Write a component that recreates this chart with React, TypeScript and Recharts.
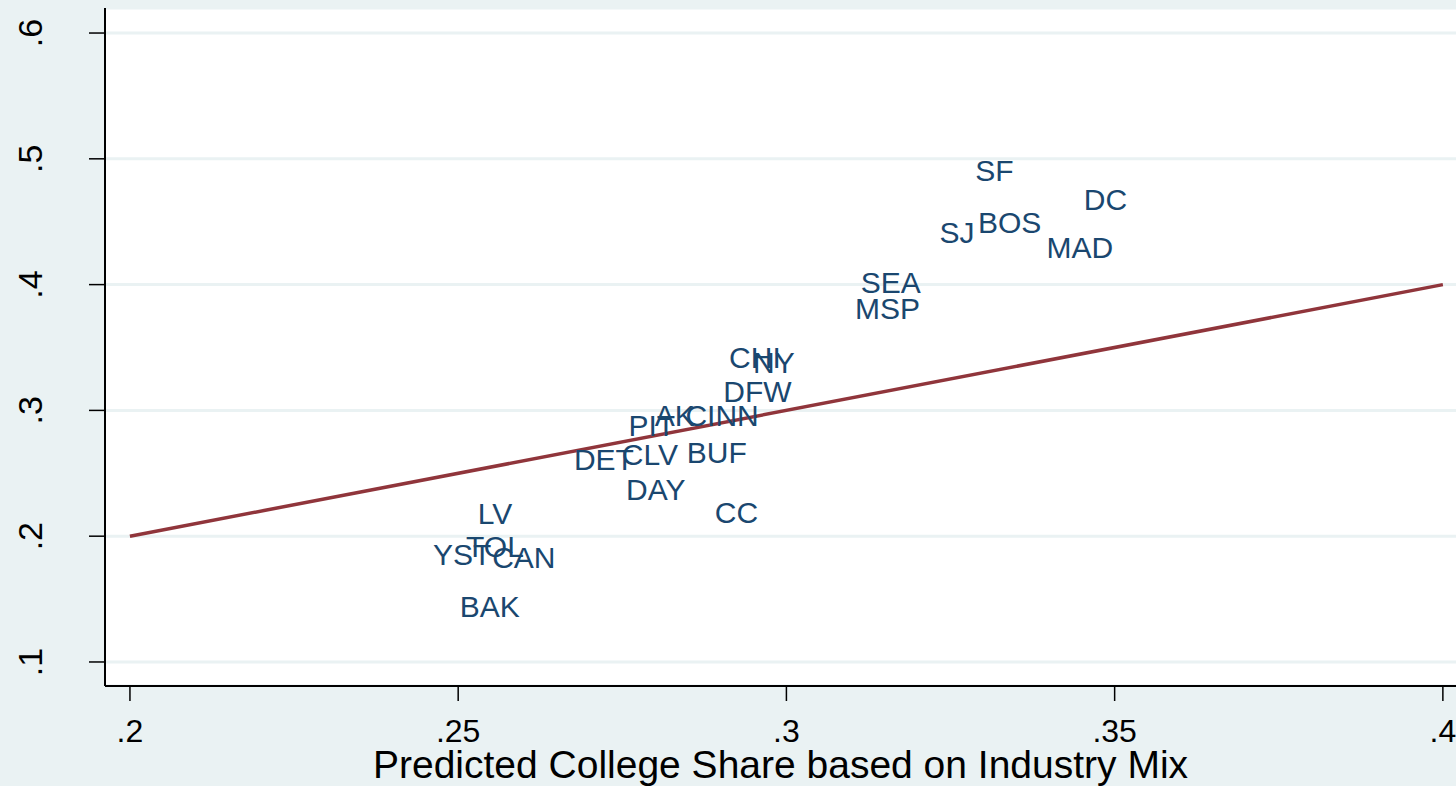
import { ScatterChart, Scatter, XAxis, YAxis, CartesianGrid } from "recharts";

const BG = "#EAF2F3";
const NAVY = "#1A476F";
const MAROON = "#90353B";
const FONT = "'Liberation Sans', Arial, sans-serif";

const cities = ["SF", "DC", "BOS", "SJ", "MAD", "SEA", "MSP", "CHI", "NY", "DFW", "AK", "CINN", "PIT", "DET", "CLV", "BUF", "DAY", "CC", "LV", "TOL", "YST", "CAN", "BAK"];
const predictedShare = [0.3317, 0.3486, 0.334, 0.326, 0.3447, 0.3159, 0.3154, 0.2952, 0.2981, 0.2956, 0.283, 0.2902, 0.2795, 0.2722, 0.2792, 0.2894, 0.2801, 0.2924, 0.2556, 0.2556, 0.2506, 0.26, 0.2548];
const actualShare = [0.491, 0.468, 0.45, 0.442, 0.43, 0.402, 0.381, 0.342, 0.338, 0.315, 0.296, 0.296, 0.288, 0.261, 0.265, 0.267, 0.237, 0.219, 0.218, 0.192, 0.186, 0.183, 0.144];

const fitX = [0.2, 0.4];
const fitY = [0.2, 0.4];

const xTicks = [0.2, 0.25, 0.3, 0.35, 0.4];
const yTicks = [0.1, 0.2, 0.3, 0.4, 0.5, 0.6];

const points = cities.map((name, i) => ({ name, x: predictedShare[i], y: actualShare[i] }));
const fitLine = fitX.map((x, i) => ({ x, y: fitY[i] }));

const fmt = (v: number) => String(v).replace(/^0/, "");

function CityLabel(props: any) {
  const { cx, cy, payload } = props;
  return (
    <text x={cx} y={cy} dy="0.36em" textAnchor="middle" fill={NAVY} fontSize={30} fontFamily={FONT}>
      {payload.name}
    </text>
  );
}

function YTick(props: any) {
  const { x, y, payload } = props;
  return (
    <text transform={`translate(${x}, ${y}) rotate(-90)`} textAnchor="middle" fill="#000" fontSize={34} fontFamily={FONT}>
      {fmt(payload.value)}
    </text>
  );
}

export default function App() {
  return (
    <div style={{ position: "absolute", left: 0, top: 0, width: 1456, height: 786, background: BG }}>
      <ScatterChart width={1456} height={786} margin={{ top: 8, right: 0, bottom: 0, left: 0 }}>
        <CartesianGrid horizontal vertical={false} stroke={BG} strokeWidth={3} fill="#fff" fillOpacity={1} />
        <XAxis
          type="number"
          dataKey="x"
          domain={[0.1962, 0.402]}
          allowDataOverflow
          ticks={xTicks}
          tickFormatter={fmt}
          height={100}
          tickSize={15}
          tickMargin={18}
          axisLine={{ stroke: "#000", strokeWidth: 2 }}
          tickLine={{ stroke: "#000", strokeWidth: 1.5 }}
          tick={{ fill: "#000", fontSize: 32, fontFamily: FONT }}
          label={{ value: "Predicted College Share based on Industry Mix", position: "insideBottom", offset: 8, fill: "#000", fontSize: 39, fontFamily: FONT }}
        />
        <YAxis
          type="number"
          dataKey="y"
          domain={[0.0809, 0.6199]}
          allowDataOverflow
          ticks={yTicks}
          width={105}
          tickSize={16}
          tickMargin={47}
          axisLine={{ stroke: "#000", strokeWidth: 2 }}
          tickLine={{ stroke: "#000", strokeWidth: 1.5 }}
          tick={<YTick />}
        />
        <Scatter data={fitLine} line={{ stroke: MAROON, strokeWidth: 3.5 }} shape={() => <g />} isAnimationActive={false} />
        <Scatter data={points} shape={<CityLabel />} isAnimationActive={false} />
      </ScatterChart>
    </div>
  );
}
